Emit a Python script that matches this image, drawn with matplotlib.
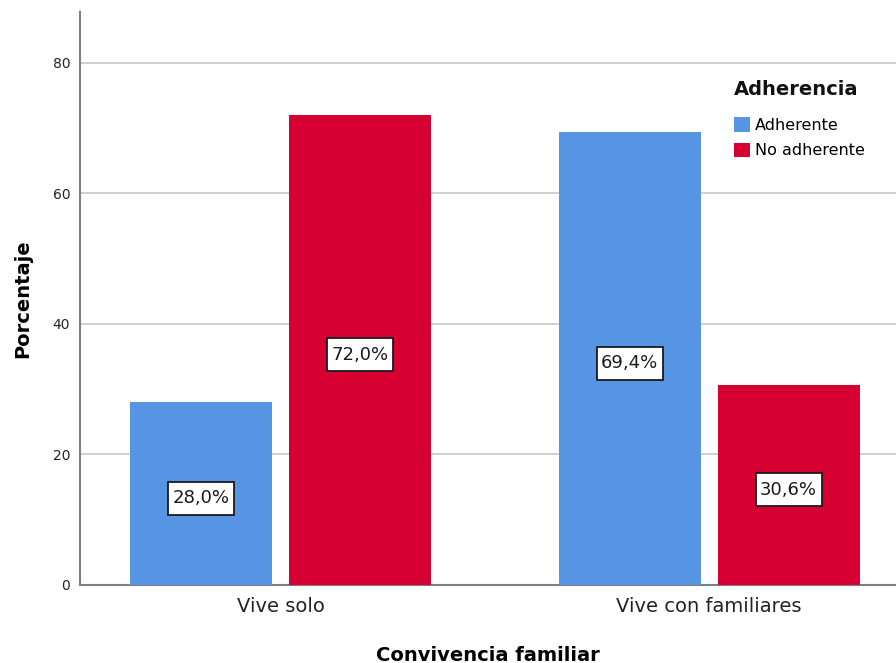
import matplotlib
matplotlib.use("Agg")
import matplotlib.pyplot as plt
from matplotlib.path import Path
import numpy as np

categories = ["Vive solo", "Vive con familiares"]
series_names = ["Adherente", "No adherente"]
adherente = [28.0, 69.4]
no_adherente = [72.0, 30.6]
bar_labels_adh = ["28,0%", "69,4%"]
bar_labels_no = ["72,0%", "30,6%"]
yticks = [0, 20, 40, 60, 80]

colors = ["#5595e3", "#d60032"]

plt.rcParams['font.family'] = ['DejaVu Sans']

fig = plt.figure(figsize=(8.96, 6.63), dpi=100)
ax = fig.add_axes([80/896, 78/663, 1 - 80/896, (585 - 12)/663])

x = np.arange(len(categories))
width = 0.331
off = 0.1855

b1 = ax.bar(x - off, adherente, width, color=colors[0], label=series_names[0], zorder=3)
b2 = ax.bar(x + off, no_adherente, width, color=colors[1], label=series_names[1], zorder=3)


def label_box(x0, y0, w, h, mutation_size):
    px = 0.25 * mutation_size
    py = 0.42 * mutation_size
    xa, xb = x0 - px, x0 + w + px
    ya, yb = y0 - py, y0 + h + py
    return Path([(xa, ya), (xb, ya), (xb, yb), (xa, yb), (xa, ya)],
                [Path.MOVETO, Path.LINETO, Path.LINETO, Path.LINETO, Path.CLOSEPOLY])


box = dict(boxstyle=label_box, fc="white", ec="#1a1a1a", lw=1.3)
for bars, labs in ((b1, bar_labels_adh), (b2, bar_labels_no)):
    for r, lab in zip(bars, labs):
        ax.text(r.get_x() + r.get_width()/2, r.get_height()/2 - 0.7, lab,
                ha="center", va="center", fontsize=13, color="#1a1a1a",
                bbox=box, zorder=4)

ax.set_xlim(-0.468, 1.436)
ax.set_ylim(0, 87.8)
ax.set_yticks(yticks)
ax.set_yticklabels([str(t) for t in yticks], fontsize=10, color="#222222")
ax.set_xticks(x)
ax.set_xticklabels(categories, fontsize=14, color="#222222")
ax.tick_params(axis="both", length=0)
ax.tick_params(axis="y", pad=7)
ax.tick_params(axis="x", pad=9)

ax.grid(axis="y", color="#c8c8c8", lw=1.2, zorder=0)
ax.set_axisbelow(True)
for s in ("top", "right"):
    ax.spines[s].set_visible(False)
for s in ("left", "bottom"):
    ax.spines[s].set_color("#7f7f7f")
    ax.spines[s].set_linewidth(1.5)

ax.set_xlabel("Convivencia familiar", fontsize=14, fontweight="bold", labelpad=21)
ax.set_ylabel("Porcentaje", fontsize=14, fontweight="bold", labelpad=15)

leg = ax.legend(title="Adherencia", loc="upper left",
                bbox_to_anchor=(731/896, 1 - 77/663), bbox_transform=fig.transFigure,
                frameon=False, fontsize=11.5, title_fontproperties={"weight": "bold", "size": 14},
                handlelength=1.0, handleheight=1.0, handletextpad=0.3, labelspacing=0.62,
                alignment="left", borderaxespad=0, borderpad=0.2)
leg.get_title().set_color("#111111")
try:
    leg._legend_box.sep = 13
except Exception:
    pass

fig.savefig("out.png", dpi=100)
